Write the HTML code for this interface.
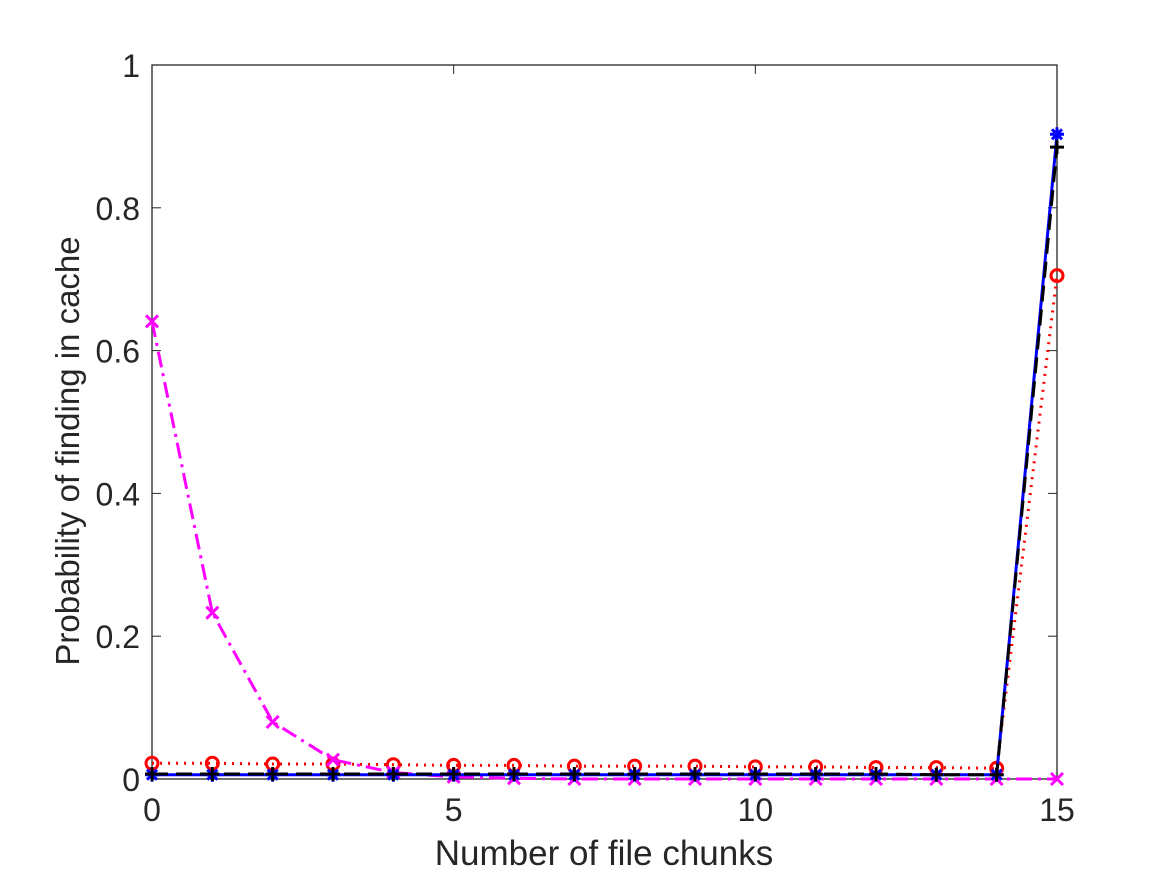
<!DOCTYPE html>
<html><head><meta charset="utf-8"><style>
body{margin:0;background:#fff;}
svg text{font-family:"Liberation Sans",sans-serif;fill:#262626;}
</style></head><body>
<svg width="1167" height="875">
<rect width="1167" height="875" fill="#fff"/>
<g id="axes"></g>
<g id="series"></g>
<text x="604" y="865" font-size="35" text-anchor="middle">Number of file chunks</text>
<text transform="translate(79,451) rotate(-90)" font-size="33" text-anchor="middle">Probability of finding in cache</text>
</svg>
<script>
const xs=[0,1,2,3,4,5,6,7,8,9,10,11,12,13,14,15];
const blueVals=[0.006,0.006,0.006,0.006,0.006,0.006,0.006,0.006,0.006,0.006,0.006,0.006,0.006,0.006,0.006,0.903];
const blackVals=[0.007,0.007,0.007,0.007,0.007,0.007,0.007,0.007,0.007,0.007,0.007,0.007,0.007,0.006,0.006,0.885];
const redVals=[0.022,0.022,0.021,0.021,0.02,0.019,0.019,0.018,0.018,0.018,0.017,0.017,0.016,0.016,0.015,0.705];
const magentaVals=[0.641,0.233,0.08,0.027,0.009,0.003,0.001,0.0,0.0,0.0,0.0,0.0,0.0,0.0,0.0,0.0];
const xTicks=[0,5,10,15];
const yTicks=[0,0.2,0.4,0.6,0.8,1];
const yTickLabels=["0","0.2","0.4","0.6","0.8","1"];
const L=152,R=1057,T=65,B=779;
const X=v=>L+(R-L)*v/15, Y=v=>B-(B-T)*v;
const NS="http://www.w3.org/2000/svg";
function mk(tag,attrs,parent){const e=document.createElementNS(NS,tag);for(const k in attrs)e.setAttribute(k,attrs[k]);parent.appendChild(e);return e;}
const ax=document.getElementById('axes');
const box=mk('rect',{x:L,y:T,width:R-L,height:B-T,fill:'none',stroke:'#262626','stroke-width':1.3},ax);


xTicks.forEach(t=>{
 mk('line',{x1:X(t),x2:X(t),y1:B,y2:B-9,stroke:'#262626'},ax);
 mk('line',{x1:X(t),x2:X(t),y1:T,y2:T+9,stroke:'#262626'},ax);
 const tx=mk('text',{x:X(t),y:B+42,'font-size':32,'text-anchor':'middle'},ax);tx.textContent=t;
 
 
});
yTicks.forEach((t,i)=>{
 mk('line',{x1:L,x2:L+9,y1:Y(t),y2:Y(t),stroke:'#262626'},ax);
 mk('line',{x1:R,x2:R-9,y1:Y(t),y2:Y(t),stroke:'#262626'},ax);
 const tx=mk('text',{x:L-12,y:Y(t)+12,'font-size':32,'text-anchor':'end'},ax);tx.textContent=yTickLabels[i];
 
 
});
const sg=document.getElementById('series');
function series(vals,color,dash,marker,name){
 const g=mk('g',{},sg);
 
 
 mk('polyline',{points:vals.map((v,i)=>X(xs[i])+','+Y(v)).join(' '),fill:'none',stroke:color,'stroke-width':3,'stroke-dasharray':dash},g);
 vals.forEach((v,i)=>{const x=X(xs[i]),y=Y(v),s=6;
  if(marker==='o')mk('circle',{cx:x,cy:y,r:6,fill:'none',stroke:color,'stroke-width':3},g);
  else if(marker==='x'){mk('path',{d:`M${x-s} ${y-s}L${x+s} ${y+s}M${x-s} ${y+s}L${x+s} ${y-s}`,stroke:color,'stroke-width':3},g);}
  else if(marker==='+'){mk('path',{d:`M${x-7} ${y}L${x+7} ${y}M${x} ${y-7}L${x} ${y+7}`,stroke:color,'stroke-width':3},g);}
  else if(marker==='*'){mk('path',{d:`M${x-7} ${y}L${x+7} ${y}M${x} ${y-7}L${x} ${y+7}M${x-5} ${y-5}L${x+5} ${y+5}M${x-5} ${y+5}L${x+5} ${y-5}`,stroke:color,'stroke-width':3},g);}
 });
}
series(redVals,'#ff0000','2 6','o','series-red');
series(magentaVals,'#ff00ff','16 6 3 6','x','series-magenta');
series(blueVals,'#0000ff','','*','series-blue');
series(blackVals,'#000000','16 8','+','series-black');
</script>
</body></html>
